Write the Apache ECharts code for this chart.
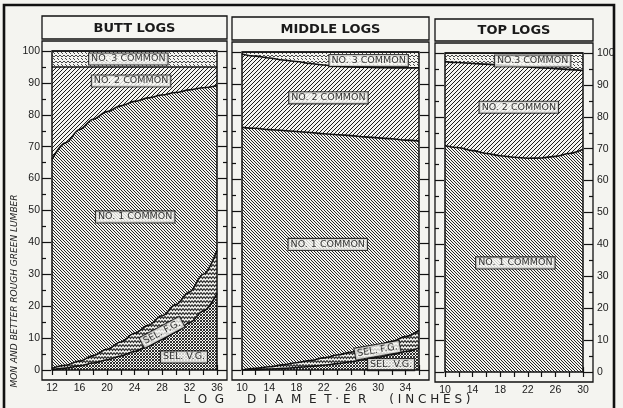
<!DOCTYPE html>
<html>
<head>
<meta charset="utf-8">
<script src="https://cdn.jsdelivr.net/npm/echarts@6/dist/echarts.min.js"></script>
<style>html,body{margin:0;padding:0;background:#f4f4f0;}#c{width:623px;height:408px;}</style>
</head>
<body>
<div id="c"></div>
<script>
// ---------------- DATA ----------------
const panelTitles = ['BUTT LOGS', 'MIDDLE LOGS', 'TOP LOGS'];
const gradeNames = ['SEL. V.G.', 'SEL. F.G.', 'NO. 1 COMMON', 'NO. 2 COMMON', 'NO. 3 COMMON'];
const yTicks = [0, 10, 20, 30, 40, 50, 60, 70, 80, 90, 100];

// Butt logs (percent of each grade, stacked bottom to top)
const buttDiameter = [12, 14, 16, 18, 20, 22, 24, 26, 28, 30, 32, 34, 36];
const buttSelVG  = [0, 0.6, 1.3, 2.2, 3.2, 4.4, 5.8, 7.5, 9.5, 12, 14.8, 18.5, 24];
const buttSelFG  = [0.5, 0.9, 1.5, 2.3, 3.3, 4.4, 5.7, 6.5, 7.5, 8.5, 9.7, 11.5, 13.5];
const buttNo1    = [65.5, 69.7, 72.6, 74.1, 74.5, 74, 72.7, 71.3, 69.2, 66.5, 63.3, 58.5, 51.7];
const buttNo2    = [29, 23.8, 19.6, 16.4, 14, 12.2, 10.8, 9.7, 8.8, 8, 7.2, 6.5, 5.8];
const buttNo3    = [5, 5, 5, 5, 5, 5, 5, 5, 5, 5, 5, 5, 5];

// Middle logs
const middleDiameter = [10, 12, 14, 16, 18, 20, 22, 24, 26, 28, 30, 32, 34, 36];
const middleSelVG = [0, 0.1, 0.3, 0.5, 0.8, 1.1, 1.5, 2, 2.6, 3.2, 4, 4.8, 5.8, 7];
const middleSelFG = [0, 0.4, 0.7, 1.1, 1.5, 1.9, 2.3, 2.7, 3, 3.4, 3.8, 4.2, 4.7, 5.5];
const middleNo1   = [76.3, 75.5, 74.6, 73.7, 72.7, 71.7, 70.5, 69.3, 68.1, 66.7, 65.2, 63.7, 61.8, 59.5];
const middleNo2   = [23.1, 22.7, 22.5, 22.2, 22, 21.7, 21.6, 21.5, 21.6, 21.9, 22.1, 22.3, 22.7, 23];
const middleNo3   = [0.6, 1.3, 1.9, 2.5, 3, 3.6, 4.1, 4.5, 4.7, 4.8, 4.9, 5, 5, 5];

// Top logs
const topDiameter = [10, 12, 14, 16, 18, 20, 22, 24, 26, 28, 30];
const topNo1 = [71, 70.3, 69.4, 68.5, 67.8, 67.3, 67, 67.1, 67.6, 68.5, 69.8];
const topNo2 = [26.3, 26.7, 27.3, 28, 28.4, 28.6, 28.6, 28.2, 27.5, 26.3, 24.7];
const topNo3 = [2.7, 3, 3.3, 3.5, 3.8, 4.1, 4.4, 4.7, 4.9, 5.2, 5.5];

// Axis ranges
const xRanges = [[12, 36], [10, 36], [10, 30]];

// In-chart grade labels: [panel, x, y, text, rotation]
const gradeLabels = [
  [0, 23.1, 97.5, 'NO. 3 COMMON', 0],
  [0, 23.5, 90.6, 'NO. 2 COMMON', 0],
  [0, 24.1, 48, 'NO. 1 COMMON', 0],
  [0, 28.0, 11.8, 'SEL. F.G.', 28],
  [0, 31.2, 4.1, 'SEL. V.G.', 0],
  [1, 28.6, 97.3, 'NO. 3 COMMON', 0],
  [1, 22.7, 85.6, 'NO. 2 COMMON', 0],
  [1, 22.6, 39.5, 'NO. 1 COMMON', 0],
  [1, 29.9, 6.2, 'SEL. F.G.', 10],
  [1, 31.9, 1.7, 'SEL. V.G.', 0],
  [2, 22.7, 97.5, 'NO.3 COMMON', 0],
  [2, 20.7, 83, 'NO. 2 COMMON', 0],
  [2, 20.2, 34.2, 'NO. 1 COMMON', 0]
];

const xTitle = 'L  O  G      D  I  A  M  E  T · E  R      ( I N C H E S )';
const yTitle = 'MON AND BETTER ROUGH GREEN LUMBER';

// ---------------- PATTERNS ----------------
const BG = '#f4f4f0';
function mk(w, h, draw) {
  const c = document.createElement('canvas');
  c.width = w; c.height = h;
  const g = c.getContext('2d');
  g.fillStyle = BG; g.fillRect(0, 0, w, h);
  draw(g);
  return { image: c, repeat: 'repeat' };
}
// diagonal hatch, tile size t, horizontal period p
function hatch(t, p, dir, lw, col) {
  return mk(t, t, g => {
    g.strokeStyle = col; g.lineWidth = lw; g.beginPath();
    for (let k = -t; k <= 2 * t; k += p) {
      if (dir === '\\') { g.moveTo(k - t, 0); g.lineTo(k, t); }
      else { g.moveTo(k - t, t); g.lineTo(k, 0); }
    }
    g.stroke();
  });
}
const patNo1 = hatch(6, 3, '\\', 0.95, '#1a1a1a');
const patNo2 = hatch(8, 4, '/', 1.0, '#1a1a1a');
const patNo3 = mk(8, 6, g => {
  g.strokeStyle = '#333'; g.lineWidth = 0.9; g.beginPath();
  g.moveTo(0, 1); g.lineTo(2, 3); g.lineTo(4, 1); g.lineTo(6, 3); g.lineTo(8, 1);
  g.moveTo(1, 4); g.lineTo(3, 6);
  g.moveTo(5, 4); g.lineTo(7, 6);
  g.stroke();
});
const patFG = mk(6, 4, g => {
  g.strokeStyle = '#222'; g.lineWidth = 1.1; g.beginPath();
  g.moveTo(0, 0.5); g.lineTo(1.5, 2.5); g.lineTo(3, 0.5); g.lineTo(4.5, 2.5); g.lineTo(6, 0.5);
  g.stroke();
});
const patVG = mk(3, 3, g => {
  g.strokeStyle = '#1a1a1a'; g.lineWidth = 0.9; g.beginPath();
  for (let k = -1; k <= 1; k++) {
    g.moveTo(k * 3, 0); g.lineTo(k * 3 + 3, 3);
    g.moveTo(k * 3, 3); g.lineTo(k * 3 + 3, 0);
  }
  g.stroke();
});
const patterns = [patVG, patFG, patNo1, patNo2, patNo3];

// ---------------- LAYOUT ----------------
const grids = [
  { left: 52, top: 51, width: 165, height: 319 },
  { left: 242, top: 52, width: 177, height: 318 },
  { left: 445, top: 53, width: 138, height: 319 }
];
const FR = 10; // gap between plot area and its frame
const titleTops = [16, 17, 19];
const FONT = 'DejaVu Sans';
const TICKFONT = 'Liberation Sans';

const panelSeriesData = [
  [buttDiameter, [buttSelVG, buttSelFG, buttNo1, buttNo2, buttNo3]],
  [middleDiameter, [middleSelVG, middleSelFG, middleNo1, middleNo2, middleNo3]],
  [topDiameter, [null, null, topNo1, topNo2, topNo3]]
];

const xAxes = [], yAxes = [], series = [], graphics = [];
grids.forEach((gr, i) => {
  const [mn, mx] = xRanges[i];
  const tickStyle = { lineStyle: { color: '#111', width: 1.2 } };
  ['bottom', 'top'].forEach(pos => {
    xAxes.push({
      type: 'value', gridIndex: i, position: pos, offset: FR, min: mn, max: mx, interval: 2,
      axisLine: { show: false },
      axisTick: Object.assign({ show: true, inside: true, length: 5 }, tickStyle),
      splitLine: { show: false },
      axisLabel: {
        show: pos === 'bottom', margin: 3, fontFamily: TICKFONT, fontSize: 10.5, color: '#1a1a1a',
        formatter: v => ((v - mn) % 4 === 0 ? String(v) : '')
      }
    });
  });
  ['left', 'right'].forEach(pos => {
    const showLab = (i === 0 && pos === 'left') || (i === 2 && pos === 'right');
    yAxes.push({
      type: 'value', gridIndex: i, position: pos, offset: FR, min: 0, max: 100, interval: 10,
      axisLine: { show: false },
      axisTick: Object.assign({ show: true, inside: true, length: 9 }, tickStyle),
      minorTick: { show: true, splitNumber: 2, length: 4, lineStyle: { color: '#111', width: 1.2 } },
      splitLine: { show: false },
      axisLabel: { show: showLab, margin: pos === 'left' ? 2 : 4, fontFamily: TICKFONT, fontSize: 10.5, color: '#1a1a1a',
        formatter: v => (yTicks.indexOf(v) >= 0 ? String(v) : '') }
    });
  });

  // cumulative boundaries computed from the layer arrays; lower grades drawn on top
  const [xs, layers] = panelSeriesData[i];
  const cum = xs.map(() => 0);
  const cumLayers = layers.map(arr => {
    if (!arr) return null;
    arr.forEach((v, j) => { cum[j] += v; });
    return cum.slice();
  });
  cumLayers.forEach((arr, k) => {
    if (!arr) return;
    series.push({
      type: 'line', name: gradeNames[k], xAxisIndex: i * 2, yAxisIndex: i * 2,
      smooth: 0.35, smoothMonotone: 'x', symbol: 'none',
      data: xs.map((x, j) => [x, arr[j]]),
      lineStyle: { color: '#111', width: 1.6 },
      areaStyle: { color: patterns[k], opacity: 1, origin: 'start' },
      z: 10 - k
    });
  });

  series.push({
    type: 'scatter', xAxisIndex: i * 2, yAxisIndex: i * 2, symbolSize: 1, z: 20,
    itemStyle: { color: 'rgba(0,0,0,0)' }, silent: true,
    data: gradeLabels.filter(l => l[0] === i).map(l => ({ value: [l[1], l[2]], name: l[3], label: { rotate: l[4] } })),
    label: {
      show: true, position: 'inside', formatter: '{b}', fontFamily: FONT, fontSize: 9.5, color: '#000',
      backgroundColor: '#f6f6f2', borderColor: '#111', borderWidth: 1.1, padding: [1, 2, 0, 2]
    }
  });

  // plot-area border
  graphics.push({ type: 'rect', z: 100, shape: { x: gr.left, y: gr.top, width: gr.width, height: gr.height },
    style: { fill: null, stroke: '#111', lineWidth: 1.5 } });
  // frame
  graphics.push({ type: 'rect', z: 100, shape: { x: gr.left - FR, y: gr.top - FR, width: gr.width + 2 * FR, height: gr.height + 2 * FR },
    style: { fill: null, stroke: '#111', lineWidth: 1.3 } });
  // title box
  const tt = titleTops[i];
  const tb = gr.top - FR - 2;
  graphics.push({ type: 'rect', z: 100, shape: { x: gr.left - FR, y: tt, width: gr.width + 2 * FR, height: tb - tt },
    style: { fill: '#f6f6f2', stroke: '#111', lineWidth: 1.3 } });
  graphics.push({ type: 'text', z: 101, x: gr.left + gr.width / 2, y: (tt + tb) / 2 + 1,
    style: { text: panelTitles[i], fontFamily: FONT, fontSize: 13, fontWeight: 'bold', fill: '#1a1a1a', textAlign: 'center', textVerticalAlign: 'middle' } });
});

// outer border
graphics.push({ type: 'polyline', z: 100, shape: { points: [[4, 410], [4, 5], [614, 5], [614, 410]] },
  style: { fill: null, stroke: '#111', lineWidth: 2.6 } });
// axis titles
graphics.push({ type: 'text', z: 101, x: 327, y: 400,
  style: { text: xTitle, fontFamily: FONT, fontSize: 12, fill: '#222', textAlign: 'center', textVerticalAlign: 'middle' } });
graphics.push({ type: 'text', z: 101, x: 15, y: 291, rotation: Math.PI / 2,
  style: { text: yTitle, fontFamily: FONT, fontSize: 9, fontStyle: 'italic', fill: '#222', textAlign: 'center', textVerticalAlign: 'middle' } });

const chart = echarts.init(document.getElementById('c'), null, { renderer: 'canvas' });
chart.setOption({
  animation: false,
  backgroundColor: BG,
  grid: grids.map(g => Object.assign({ containLabel: false, show: false }, g)),
  xAxis: xAxes,
  yAxis: yAxes,
  series: series,
  graphic: graphics
});
</script>
</body>
</html>
